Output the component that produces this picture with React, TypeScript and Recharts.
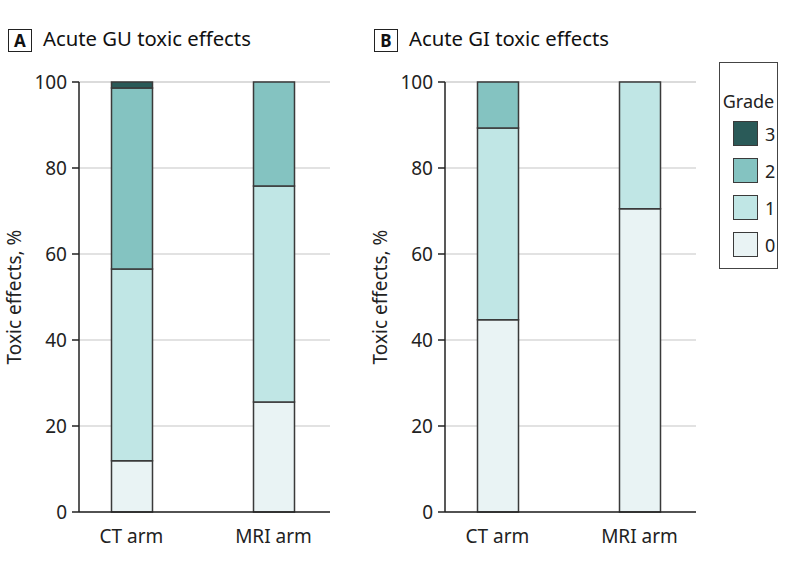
import { BarChart, Bar, XAxis, YAxis, CartesianGrid, Label } from 'recharts'

const arms = ['CT arm', 'MRI arm']
const grades = ['0', '1', '2', '3']
const gradeColors = ['#e9f3f4', '#c0e6e5', '#84c3c1', '#2a5a58']
const yTicks = [0, 20, 40, 60, 80, 100]

// % of patients per grade, index matches arms
const guGrade0 = [11.9, 25.6]
const guGrade1 = [44.6, 50.2]
const guGrade2 = [42.1, 24.2]
const guGrade3 = [1.4, 0]

const giGrade0 = [44.7, 70.5]
const giGrade1 = [44.6, 29.5]
const giGrade2 = [10.7, 0]
const giGrade3 = [0, 0]

const FONT = '"Noto Sans", sans-serif'

const build = (g0: number[], g1: number[], g2: number[], g3: number[]) =>
  arms.map((arm, i) => ({ arm, '0': g0[i], '1': g1[i], '2': g2[i], '3': g3[i] }))

const guData = build(guGrade0, guGrade1, guGrade2, guGrade3)
const giData = build(giGrade0, giGrade1, giGrade2, giGrade3)

function Panel({ data, letter, title, left }: { data: any[]; letter: string; title: string; left: number }) {
  return (
    <div style={{ position: 'absolute', left, top: 0, width: 340, height: 566 }}>
      <div style={{
        position: 'absolute', left: 8, top: 29, width: 22, height: 21, border: '1.5px solid #222',
        fontFamily: FONT, fontWeight: 700, fontSize: 17, lineHeight: '21px', textAlign: 'center', color: '#111',
      }}>{letter}</div>
      <div style={{ position: 'absolute', left: 43, top: 24, fontFamily: FONT, fontSize: 20.3, color: '#111', whiteSpace: 'nowrap' }}>
        {title}
      </div>
      <BarChart width={340} height={566} data={data} margin={{ top: 82, right: 10, bottom: 0, left: 0 }}
        barSize={41} style={{ fontFamily: FONT }}>
        <CartesianGrid vertical={false} stroke="#d9d9d9" strokeWidth={1.5} />
        <XAxis dataKey="arm" height={54} tickLine={false} axisLine={{ stroke: '#222', strokeWidth: 1.5 }}
          padding={{ left: -18.5, right: -14.5 }} tick={{ fill: '#222', fontSize: 19 }} tickMargin={12} />
        <YAxis width={79} domain={[0, 100]} ticks={yTicks} interval={0} tickSize={7}
          axisLine={{ stroke: '#222', strokeWidth: 1.5 }} tickLine={{ stroke: '#222', strokeWidth: 1.5 }}
          tick={{ fill: '#222', fontSize: 19 }} tickMargin={5}>
          <Label value="Toxic effects, %" angle={-90} position="insideLeft" offset={14}
            style={{ textAnchor: 'middle', fill: '#222', fontSize: 19 }} />
        </YAxis>
        {grades.map((g, i) => (
          <Bar key={g} dataKey={g} stackId="s" fill={gradeColors[i]} stroke="#3a3a3a" strokeWidth={1.5}
            isAnimationActive={false} />
        ))}
      </BarChart>
    </div>
  )
}

export default function App() {
  return (
    <div style={{ position: 'absolute', left: 0, top: 0, width: 798, height: 566, background: '#fff' }}>
      <Panel data={guData} letter="A" title="Acute GU toxic effects" left={0} />
      <Panel data={giData} letter="B" title="Acute GI toxic effects" left={366} />
      <div style={{
        position: 'absolute', left: 719, top: 62, width: 57, height: 205, border: '1.5px solid #444',
        fontFamily: FONT, color: '#222',
      }}>
        <div style={{ position: 'absolute', left: 0, width: 57, top: 26, textAlign: 'center', fontSize: 18 }}>Grade</div>
        {[...grades].reverse().map((g, i) => (
          <div key={g} style={{ position: 'absolute', left: 13, top: 58 + i * 37, display: 'flex', alignItems: 'center' }}>
            <div style={{ width: 23, height: 23, background: gradeColors[3 - i], border: '1.5px solid #3a3a3a' }} />
            <span style={{ marginLeft: 7, fontSize: 18 }}>{g}</span>
          </div>
        ))}
      </div>
    </div>
  )
}
